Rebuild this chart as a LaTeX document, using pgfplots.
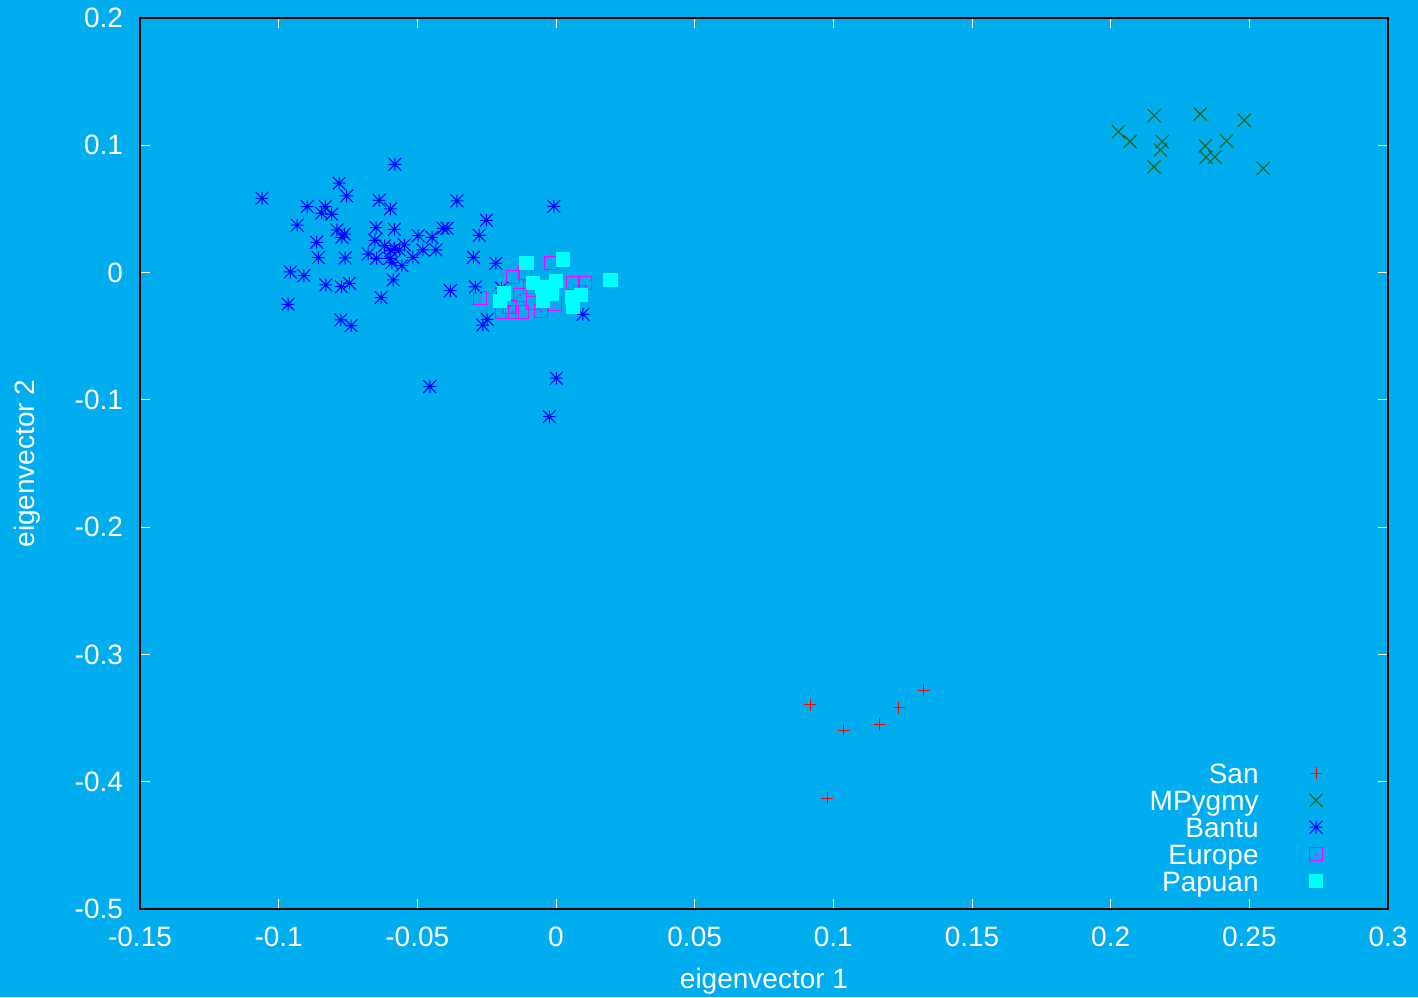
\documentclass[border=0pt]{standalone}
\usepackage{fontspec}
\setmainfont{Liberation Sans}
\usepackage{pgfplots}
\pgfplotsset{compat=1.18}
\definecolor{cBg}{HTML}{00ADEE}
\definecolor{cSan}{HTML}{FF0000}
\definecolor{cPyg}{HTML}{1E6414}
\definecolor{cBan}{HTML}{0000FF}
\definecolor{cEur}{HTML}{FF00FF}
\definecolor{cPap}{HTML}{00FFFF}

% gnuplot-style marks: 8-armed star, and an open box with a centre dot
\pgfdeclareplotmark{gpstar}{%
  \pgfpathmoveto{\pgfqpoint{-\pgfplotmarksize}{0pt}}\pgfpathlineto{\pgfqpoint{\pgfplotmarksize}{0pt}}%
  \pgfpathmoveto{\pgfqpoint{0pt}{-\pgfplotmarksize}}\pgfpathlineto{\pgfqpoint{0pt}{\pgfplotmarksize}}%
  \pgfpathmoveto{\pgfqpoint{-\pgfplotmarksize}{-\pgfplotmarksize}}\pgfpathlineto{\pgfqpoint{\pgfplotmarksize}{\pgfplotmarksize}}%
  \pgfpathmoveto{\pgfqpoint{-\pgfplotmarksize}{\pgfplotmarksize}}\pgfpathlineto{\pgfqpoint{\pgfplotmarksize}{-\pgfplotmarksize}}%
  \pgfusepathqstroke}
\pgfdeclareplotmark{gpx}{%
  \pgfpathmoveto{\pgfqpoint{-\pgfplotmarksize}{-\pgfplotmarksize}}\pgfpathlineto{\pgfqpoint{\pgfplotmarksize}{\pgfplotmarksize}}%
  \pgfpathmoveto{\pgfqpoint{-\pgfplotmarksize}{\pgfplotmarksize}}\pgfpathlineto{\pgfqpoint{\pgfplotmarksize}{-\pgfplotmarksize}}%
  \pgfusepathqstroke}
\pgfdeclareplotmark{gpbox}{%
  \pgfpathrectangle{\pgfqpoint{-\pgfplotmarksize}{-\pgfplotmarksize}}{\pgfqpoint{2\pgfplotmarksize}{2\pgfplotmarksize}}%
  \pgfusepathqstroke
  \pgfpathrectangle{\pgfqpoint{-0.3pt}{-0.3pt}}{\pgfqpoint{0.6pt}{0.6pt}}%
  \pgfusepathqfill}

\begin{document}
\begin{tikzpicture}
\fill[cBg] (-70pt,-44pt) rectangle (639pt,454.5pt);
\begin{axis}[
  scale only axis, width=624pt, height=445.5pt,
  at={(0,0)}, anchor=south west,
  xmin=-0.15, xmax=0.3, ymin=-0.5, ymax=0.2,
  axis background/.style={fill=cBg},
  axis line style={draw=black, line width=0.6pt},
  font=\fontsize{14}{16}\selectfont,
  tick style={draw=white, line width=0.5pt},
  major tick length=5pt,
  tick align=inside,
  xtick={-0.15,-0.1,-0.05,0,0.05,0.1,0.15,0.2,0.25,0.3},
  xticklabels={-0.15,-0.1,-0.05,0,0.05,0.1,0.15,0.2,0.25,0.3},
  ytick={-0.5,-0.4,-0.3,-0.2,-0.1,0,0.1,0.2},
  yticklabels={-0.5,-0.4,-0.3,-0.2,-0.1,0,0.1,0.2},
  tick label style={white},
  xticklabel style={yshift=-5.5pt},
  yticklabel style={xshift=-5pt},
  xlabel={eigenvector 1}, ylabel={eigenvector 2},
  label style={white},
  xlabel style={yshift=-4pt},
  ylabel style={yshift=10.5pt},
  legend plot pos=right,
  legend cell align=right,
  legend image code/.code={%
    \path (0pt,1.5pt) (56pt,1.5pt);
    \draw[mark repeat=2,mark phase=2,#1] plot coordinates {(0pt,1.5pt) (28pt,1.5pt) (56pt,1.5pt)};},
  legend style={at={(rel axis cs:0.9928,0.0074)}, anchor=south east,
    draw=none, fill=none, text=white, row sep=-0.55pt,
    nodes={text height=10.1pt, text depth=3pt, inner sep=0.45pt}},
]
\addplot[only marks, mark=+, mark size=3pt, cSan, line width=0.5pt] coordinates {
(0.0916,-0.3397) (0.1038,-0.3596) (0.1168,-0.3549) (0.1236,-0.3420)
(0.1326,-0.3280) (0.0978,-0.4130)};
\addlegendentry{San}
\addplot[only marks, mark=gpx, mark size=3.3pt, cPyg, line width=0.55pt] coordinates {
(0.2157,0.1233) (0.2323,0.1246) (0.2482,0.1196) (0.2028,0.1107) (0.2070,0.1029)
(0.2186,0.1029) (0.2179,0.0963) (0.2418,0.1034) (0.2341,0.0995) (0.2344,0.0906)
(0.2376,0.0908) (0.2156,0.0830) (0.2550,0.0819)};
\addlegendentry{MPygmy}
\addplot[only marks, mark=gpstar, mark size=3.2pt, cBan, line width=0.5pt] coordinates {
(-0.0581,0.0851) (-0.0782,0.0702) (-0.0755,0.0602) (-0.1060,0.0584) (-0.0638,0.0568)
(-0.0597,0.0500) (-0.0897,0.0518) (-0.0832,0.0518) (-0.0845,0.0466) (-0.0809,0.0458)
(-0.0933,0.0372) (-0.0649,0.0353) (-0.0583,0.0340) (-0.0790,0.0335) (-0.0763,0.0303)
(-0.0772,0.0277) (-0.0497,0.0290) (-0.0447,0.0277) (-0.0863,0.0238) (-0.0653,0.0254)
(-0.0618,0.0211) (-0.0547,0.0217) (-0.0582,0.0191) (-0.0595,0.0172) (-0.0565,0.0178)
(-0.0480,0.0178) (-0.0433,0.0178) (-0.0677,0.0146) (-0.0647,0.0112) (-0.0599,0.0112)
(-0.0592,0.0078) (-0.0556,0.0054) (-0.0516,0.0120) (-0.0857,0.0117) (-0.0760,0.0115)
(-0.0958,0.0005) (-0.0909,-0.0024) (-0.0587,-0.0058) (-0.0830,-0.0097) (-0.0774,-0.0111)
(-0.0745,-0.0084) (-0.0631,-0.0197) (-0.0966,-0.0249) (-0.0776,-0.0372) (-0.0739,-0.0417)
(-0.0357,0.0563) (-0.0008,0.0521) (-0.0251,0.0411) (-0.0407,0.0348) (-0.0393,0.0348)
(-0.0277,0.0293) (-0.0298,0.0120) (-0.0217,0.0073) (-0.0381,-0.0142) (-0.0291,-0.0113)
(-0.0196,-0.0123) (-0.0248,-0.0367) (-0.0264,-0.0412) (0.0097,-0.0328) (-0.0455,-0.0896)
(0.0001,-0.0830) (-0.0024,-0.1132)};
\addlegendentry{Bantu}
\addplot[only marks, mark=gpbox, mark size=3.2pt, cEur, line width=0.5pt] coordinates {
(-0.0274,-0.0202) (-0.0154,-0.0032) (-0.0112,-0.0005) (-0.0018,0.0073) (-0.0130,-0.0176)
(-0.0196,-0.0307) (-0.0124,-0.0307) (-0.0054,-0.0302) (-0.0082,-0.0241) (-0.0004,-0.0249)
(0.0062,-0.0084) (0.0105,-0.0079) (0.0087,-0.0150) (-0.0094,-0.0111) (-0.0166,-0.0268)
(-0.0159,-0.0310)};
\addlegendentry{Europe}
\addplot[only marks, mark=square*, mark size=3.3pt, cPap, draw=none, fill=cPap] coordinates {
(-0.0107,0.0073) (0.0026,0.0104) (0.0196,-0.0060) (-0.0082,-0.0084) (-0.0052,-0.0111)
(0.0000,-0.0066) (-0.0016,-0.0168) (-0.0188,-0.0163) (-0.0202,-0.0223) (-0.0046,-0.0223)
(0.0057,-0.0189) (0.0089,-0.0176) (0.0062,-0.0268)};
\addlegendentry{Papuan}
\end{axis}
\pgfresetboundingbox
\useasboundingbox (-70pt,-44pt) rectangle (639pt,454.5pt);
\end{tikzpicture}
\end{document}
